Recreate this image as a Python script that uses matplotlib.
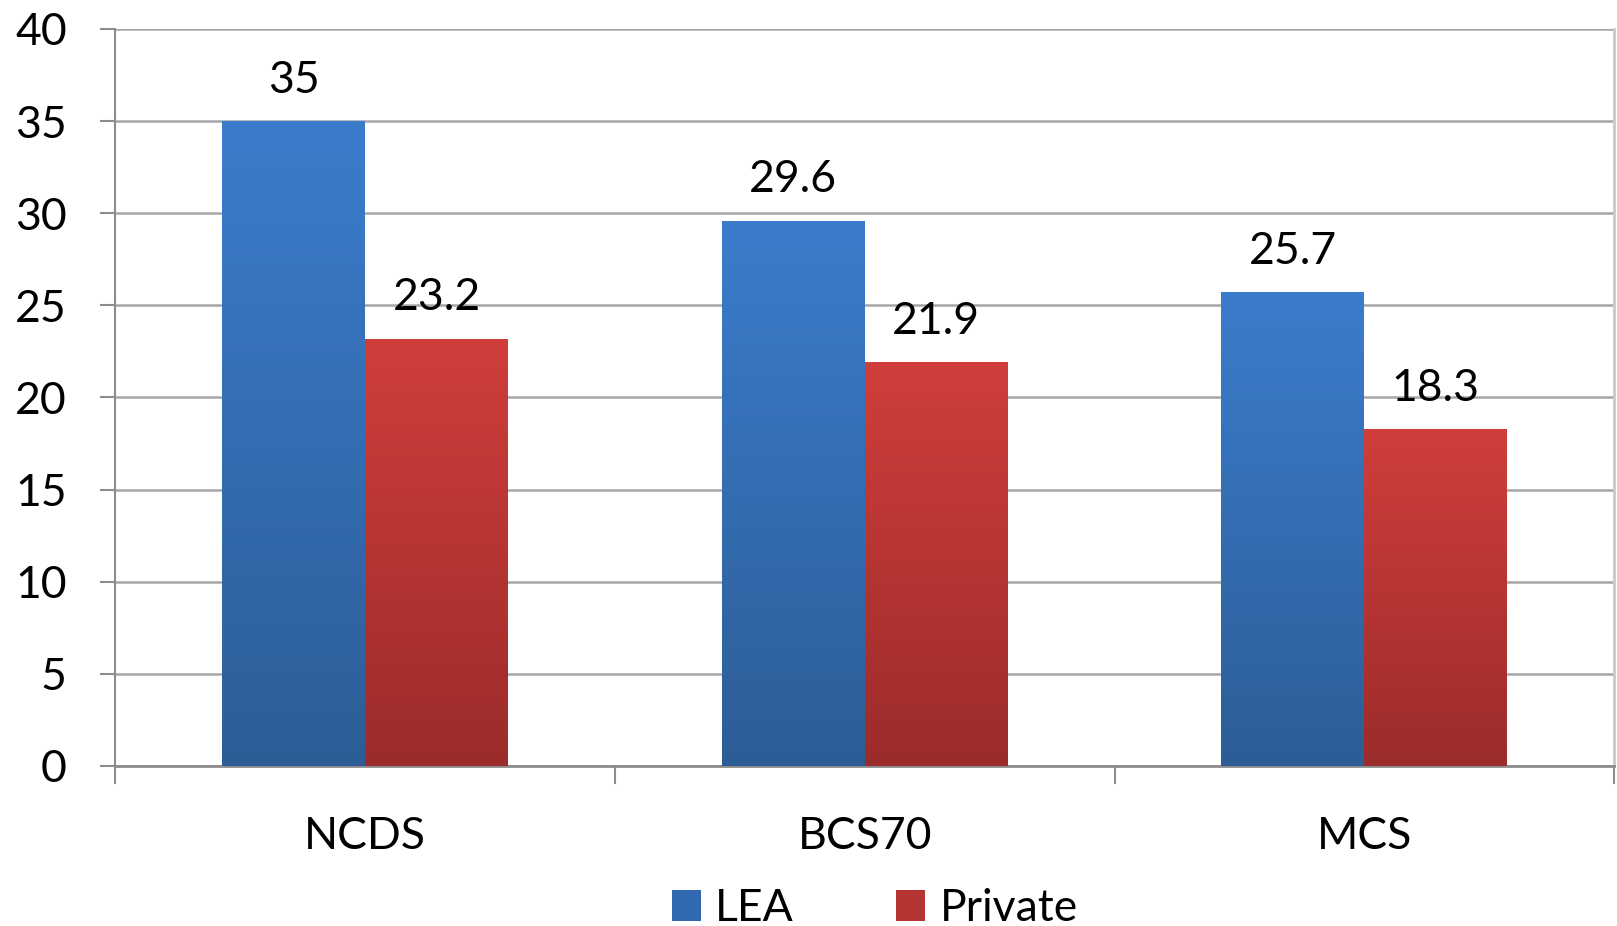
import numpy as np
import matplotlib

matplotlib.use("Agg")
import matplotlib.pyplot as plt
from matplotlib.colors import LinearSegmentedColormap
from matplotlib.patches import Patch

categories = ["NCDS", "BCS70", "MCS"]
series_names = ["LEA", "Private"]
lea = [35, 29.6, 25.7]
private = [23.2, 21.9, 18.3]
value_labels = [["35", "29.6", "25.7"], ["23.2", "21.9", "18.3"]]
yticks = [0, 5, 10, 15, 20, 25, 30, 35, 40]

# (top, bottom) colours of the gradient fill
grad = [("#3b7dcc", "#2d5d97"), ("#d03e3b", "#9b2c2b")]

plt.rcParams["font.family"] = ["Lato", "DejaVu Sans"]
FS = 32

fig = plt.figure(figsize=(16.17, 9.26), dpi=100)
ax = fig.add_axes([0.0714, 0.1728, 0.9268, 0.7959])

x = np.arange(len(categories))
w = 0.286
ymax = 40
for i, (vals, (top, bot)) in enumerate(zip([lea, private], grad)):
    bars = ax.bar(x + (i - 0.5) * w, vals, w, color=top, zorder=2)
    cmap = LinearSegmentedColormap.from_list("g", [bot, top])
    for b, lab in zip(bars, value_labels[i]):
        x0, y0 = b.get_x(), b.get_y()
        x1, y1 = x0 + b.get_width(), y0 + b.get_height()
        img = ax.imshow(np.linspace(0, 1, 256).reshape(-1, 1) * (y1 / ymax),
                        extent=(x0, x1, y0, y1), origin="lower", aspect="auto",
                        cmap=cmap, vmin=0, vmax=y1 / ymax, zorder=3)
        img.set_clip_path(b)
        ax.text(b.get_x() + b.get_width() / 2, y1 + 1.1, lab, ha="center",
                va="bottom", fontsize=FS, zorder=4)

ax.set_xlim(-0.5, len(categories) - 0.5)
ax.set_ylim(0, ymax)
ax.set_yticks(yticks)
ax.set_yticklabels([str(t) for t in yticks], fontsize=FS)
ax.set_xticks(x)
ax.set_xticklabels(categories, fontsize=FS)
ax.tick_params(axis="x", length=0, pad=36)
ax.tick_params(axis="y", length=11, width=1.5, color="#8c8c8c", pad=24)
ax.grid(axis="y", color="#a6a6a6", lw=1.8, zorder=0)
ax.set_axisbelow(True)
ax.spines["top"].set_visible(False)
ax.spines["left"].set_color("#8c8c8c")
ax.spines["left"].set_linewidth(1.5)
ax.spines["right"].set_color("#c8c8c8")
ax.spines["right"].set_linewidth(2)
ax.spines["bottom"].set_color("#8c8c8c")
ax.spines["bottom"].set_linewidth(2)
# category separator ticks below the axis
for sep in np.arange(len(categories) + 1) - 0.5:
    ax.plot([sep, sep], [0, -0.95], color="#8c8c8c", lw=1.5, clip_on=False)

handles = [Patch(facecolor="#3369b0", label=series_names[0]),
           Patch(facecolor="#b53533", label=series_names[1])]
fig.legend(handles=handles, loc="center", bbox_to_anchor=(0.541, 0.019),
           ncol=2, frameon=False, fontsize=FS, handlelength=0.66,
           handleheight=0.72, handletextpad=0.32, columnspacing=2.3,
           borderpad=0)

fig.savefig("out.png", dpi=100)
